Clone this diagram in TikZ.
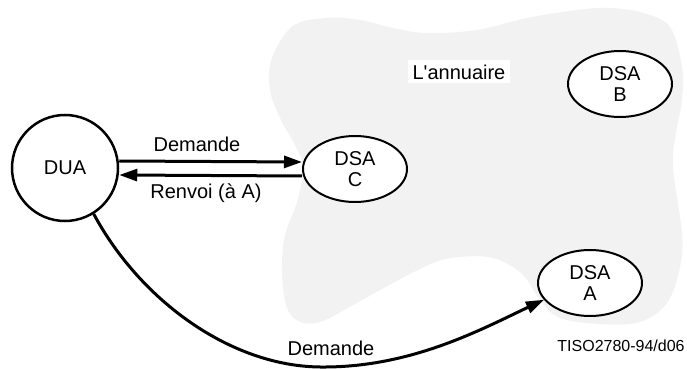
\documentclass[tikz,border=0pt]{standalone}
\usepackage{fontspec}
\setmainfont{Liberation Sans}
\usetikzlibrary{arrows.meta,shapes.geometric}
\definecolor{blobgray}{RGB}{242,242,242}
\tikzset{
  dsa/.style={ellipse, draw, line width=1pt, fill=white, minimum width=52pt, minimum height=33pt, inner sep=0pt, align=center, font=\fontsize{10}{10.5}\selectfont},
  dua/.style={circle, draw, line width=1.25pt, fill=white, minimum size=53pt, inner sep=0pt, font=\fontsize{10}{12}\selectfont},
  lbl/.style={font=\fontsize{10}{12}\selectfont, inner sep=0pt},
  arr/.style={line width=1.5pt, -{Triangle[length=9pt,width=6pt]}},
}
\begin{document}
\begin{tikzpicture}[x=0.5pt,y=-0.5pt]
\useasboundingbox (0,0) rectangle (687,369);
\fill[blobgray] plot[smooth cycle, tension=0.6] coordinates {
 (293,26) (327,18) (360,20) (393,28) (427,33) (477,30) (527,18) (577,10) (610,8) (643,13) (670,27)
 (682,67) (682,100) (676,133) (673,167) (682,233) (680,267) (667,303) (640,322) (600,324) (560,318)
 (540,300) (522,274) (493,258) (460,257) (433,263) (393,283) (355,304) (320,322) (298,321) (286,305)
 (282,270) (285,235) (297,202) (303,168) (295,145) (281,120) (270,90) (272,58)};
\node[dua] (dua) at (65,168) {DUA};
\node[dsa] (dsac) at (355,169) {DSA\\C};
\node[dsa] (dsab) at (620,84) {DSA\\B};
\node[dsa] (dsaa) at (590,283) {DSA\\A};
\node[lbl, fill=white, inner xsep=2.5pt, inner ysep=2pt, text height=7.5pt, text depth=0pt] (ann) at (459,72) {L\textquotesingle annuaire};
\draw[arr] ([yshift=3.5pt]dua.east) -- ([yshift=3.5pt]dsac.west);
\draw[arr] ([yshift=-3.5pt]dsac.west) -- ([yshift=-3.5pt]dua.east);
\node[lbl] (l1) at (197,144) {Demande};
\node[lbl] (l2) at (206,193) {Renvoi (à A)};
\coordinate (m) at (320,367);
\draw[arr] (dua.-58) .. controls (140,300) and (230,366) .. (m) .. controls (410,368) and (480,330) .. (dsaa.200);
\node[lbl] (l3) at (331,348) {Demande};
\node[font=\fontsize{8}{9}\selectfont, inner sep=0pt, anchor=east] (tiso) at (685,346) {TISO2780-94/d06};
\end{tikzpicture}
\end{document}
